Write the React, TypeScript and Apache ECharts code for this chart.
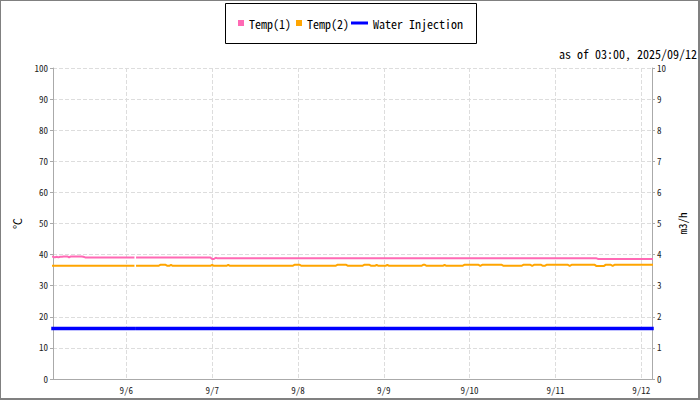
import React, { useEffect, useRef } from "react";
import * as echarts from "echarts";

const FONT = "'Noto Sans Mono CJK JP', 'DejaVu Sans Mono', monospace";

// 30-minute samples from 2025/09/05 03:30 to 2025/09/12 03:00 (local time)
const START = new Date(2025, 8, 5, 3, 30).getTime();
const STEP = 30 * 60 * 1000;
const DAY = 24 * 60 * 60 * 1000;

const titleText = "as of 03:00, 2025/09/12";
const seriesNames = ["Temp(1)", "Temp(2)", "Water Injection"];
const leftAxisName = "℃";
const rightAxisName = "m3/h";

const temp1: (number | null)[] = [
  // 9/5 03:30 - 23:30
  39.3, 39.1, 39.3, 39.1, 39.3, 39.3, 39.4, 39.4, 39.4, 39.1, 39.4, 39.4,
  39.4, 39.4, 39.4, 39.4, 39.4, 39.3, 39.1, 39.1, 39.1, 39.1, 39.1, 39.1,
  39.1, 39.1, 39.1, 39.1, 39.1, 39.1, 39.1, 39.1, 39.1, 39.1, 39.1, 39.1,
  39.1, 39.1, 39.1, 39.1, 39.1,
  // 9/6
  39.1, 39.1, 39.1, 39.1, 39.1, null, 39.1, 39.1, 39.1, 39.1, 39.1, 39.1,
  39.1, 39.1, 39.1, 39.1, 39.1, 39.1, 39.1, 39.1, 39.1, 39.1, 39.1, 39.1,
  39.1, 39.1, 39.1, 39.1, 39.1, 39.1, 39.1, 39.1, 39.1, 39.1, 39.1, 39.1,
  39.1, 39.1, 39.1, 39.1, 39.1, 39.1, 39.1, 39.1, 39.1, 39.1, 39.1, 39.1,
  // 9/7
  38.6, 38.6, 39.0, 38.8, 38.8, 38.8, 38.8, 38.8, 38.8, 38.8, 38.8, 38.8,
  38.8, 38.8, 38.8, 38.8, 38.8, 38.8, 38.8, 38.8, 38.8, 38.8, 38.8, 38.8,
  38.8, 38.8, 38.8, 38.8, 38.8, 38.8, 38.8, 38.8, 38.8, 38.8, 38.8, 38.8,
  38.8, 38.8, 38.8, 38.8, 38.8, 38.8, 38.8, 38.8, 38.8, 38.8, 38.8, 38.8,
  // 9/8
  38.8, 38.8, 38.8, 38.8, 38.8, 38.8, 38.8, 38.8, 38.8, 38.8, 38.8, 38.8,
  38.8, 38.8, 38.8, 38.8, 38.8, 38.8, 38.8, 38.8, 38.8, 38.8, 38.8, 38.8,
  38.8, 38.8, 38.8, 38.8, 38.8, 38.8, 38.8, 38.8, 38.8, 38.8, 38.8, 38.8,
  38.8, 38.8, 38.8, 38.8, 38.8, 38.8, 38.8, 38.8, 38.8, 38.8, 38.8, 38.8,
  // 9/9
  38.8, 38.8, 38.8, 38.8, 38.8, 38.8, 38.8, 38.8, 38.8, 38.8, 38.8, 38.8,
  38.8, 38.8, 38.8, 38.8, 38.8, 38.8, 38.8, 38.8, 38.8, 38.8, 38.8, 38.8,
  38.8, 38.8, 38.8, 38.8, 38.8, 38.8, 38.8, 38.8, 38.8, 38.8, 38.8, 38.8,
  38.8, 38.8, 38.8, 38.8, 38.8, 38.8, 38.8, 38.8, 38.8, 38.8, 38.8, 38.8,
  // 9/10
  38.8, 38.8, 38.8, 38.8, 38.8, 38.8, 38.8, 38.8, 38.8, 38.8, 38.8, 38.8,
  38.8, 38.8, 38.8, 38.8, 38.8, 38.8, 38.8, 38.8, 38.8, 38.8, 38.8, 38.8,
  38.8, 38.8, 38.8, 38.8, 38.8, 38.8, 38.8, 38.8, 38.8, 38.8, 38.8, 38.8,
  38.8, 38.8, 38.8, 38.8, 38.8, 38.8, 38.8, 38.8, 38.8, 38.8, 38.8, 38.8,
  // 9/11
  38.8, 38.8, 38.8, 38.8, 38.8, 38.8, 38.8, 38.8, 38.8, 38.8, 38.8, 38.8,
  38.8, 38.8, 38.8, 38.8, 38.8, 38.8, 38.8, 38.8, 38.8, 38.8, 38.8, 38.8,
  38.6, 38.6, 38.6, 38.6, 38.6, 38.6, 38.6, 38.6, 38.6, 38.6, 38.6, 38.6,
  38.6, 38.6, 38.6, 38.6, 38.6, 38.6, 38.6, 38.6, 38.6, 38.6, 38.6, 38.6,
  // 9/12 00:00 - 03:00
  38.6, 38.6, 38.6, 38.6, 38.6, 38.6, 38.6,
];

const temp2: (number | null)[] = [
  // 9/5 03:30 - 23:30
  36.4, 36.4, 36.4, 36.4, 36.4, 36.4, 36.4, 36.4, 36.4, 36.4, 36.4, 36.4,
  36.4, 36.4, 36.4, 36.4, 36.4, 36.4, 36.4, 36.4, 36.4, 36.4, 36.4, 36.4,
  36.4, 36.4, 36.4, 36.4, 36.4, 36.4, 36.4, 36.4, 36.4, 36.4, 36.4, 36.4,
  36.4, 36.4, 36.4, 36.4, 36.4,
  // 9/6
  36.4, 36.4, 36.4, 36.4, 36.4, null, 36.4, 36.4, 36.4, 36.4, 36.4, 36.4,
  36.4, 36.4, 36.4, 36.4, 36.4, 36.4, 36.4, 36.7, 36.7, 36.7, 36.7, 36.4,
  36.4, 36.7, 36.4, 36.4, 36.4, 36.4, 36.4, 36.4, 36.4, 36.4, 36.4, 36.4,
  36.4, 36.4, 36.4, 36.4, 36.4, 36.4, 36.4, 36.4, 36.4, 36.4, 36.4, 36.4,
  // 9/7
  36.7, 36.4, 36.4, 36.4, 36.4, 36.4, 36.4, 36.4, 36.4, 36.7, 36.4, 36.4,
  36.4, 36.4, 36.4, 36.4, 36.4, 36.4, 36.4, 36.4, 36.4, 36.4, 36.4, 36.4,
  36.4, 36.4, 36.4, 36.4, 36.4, 36.4, 36.4, 36.4, 36.4, 36.4, 36.4, 36.4,
  36.4, 36.4, 36.4, 36.4, 36.4, 36.4, 36.4, 36.4, 36.4, 36.4, 36.7, 36.7,
  // 9/8
  36.7, 36.7, 36.4, 36.4, 36.4, 36.4, 36.4, 36.4, 36.4, 36.4, 36.4, 36.4,
  36.4, 36.4, 36.4, 36.4, 36.4, 36.4, 36.4, 36.4, 36.4, 36.4, 36.7, 36.7,
  36.7, 36.7, 36.7, 36.7, 36.4, 36.4, 36.4, 36.4, 36.4, 36.4, 36.4, 36.4,
  36.4, 36.7, 36.7, 36.7, 36.7, 36.4, 36.4, 36.4, 36.7, 36.4, 36.4, 36.4,
  // 9/9
  36.4, 36.4, 36.7, 36.4, 36.4, 36.4, 36.4, 36.4, 36.4, 36.4, 36.4, 36.4,
  36.4, 36.4, 36.4, 36.4, 36.4, 36.4, 36.4, 36.4, 36.4, 36.4, 36.7, 36.7,
  36.4, 36.4, 36.4, 36.4, 36.4, 36.4, 36.4, 36.4, 36.4, 36.4, 36.7, 36.4,
  36.4, 36.4, 36.4, 36.4, 36.4, 36.4, 36.4, 36.4, 36.4, 36.7, 36.7, 36.7,
  // 9/10
  36.7, 36.7, 36.7, 36.7, 36.7, 36.7, 36.4, 36.7, 36.7, 36.7, 36.7, 36.7,
  36.7, 36.7, 36.7, 36.7, 36.7, 36.7, 36.7, 36.4, 36.4, 36.4, 36.4, 36.4,
  36.4, 36.4, 36.4, 36.4, 36.4, 36.4, 36.7, 36.7, 36.7, 36.7, 36.7, 36.4,
  36.7, 36.7, 36.7, 36.7, 36.7, 36.4, 36.4, 36.7, 36.7, 36.7, 36.7, 36.7,
  // 9/11
  36.7, 36.7, 36.7, 36.7, 36.7, 36.7, 36.7, 36.7, 36.4, 36.7, 36.7, 36.7,
  36.7, 36.7, 36.7, 36.7, 36.7, 36.7, 36.7, 36.7, 36.7, 36.7, 36.7, 36.3,
  36.3, 36.3, 36.3, 36.3, 36.7, 36.7, 36.7, 36.7, 36.4, 36.7, 36.7, 36.7,
  36.7, 36.7, 36.7, 36.7, 36.7, 36.7, 36.7, 36.7, 36.7, 36.7, 36.7, 36.7,
  // 9/12 00:00 - 03:00
  36.7, 36.7, 36.7, 36.7, 36.7, 36.7, 36.7,
];

const water: (number | null)[] = [
  // 9/5 03:30 - 23:30
  1.62, 1.62, 1.62, 1.62, 1.62, 1.62, 1.62, 1.62, 1.62, 1.62, 1.62, 1.62,
  1.62, 1.62, 1.62, 1.62, 1.62, 1.62, 1.62, 1.62, 1.62, 1.62, 1.62, 1.62,
  1.62, 1.62, 1.62, 1.62, 1.62, 1.62, 1.62, 1.62, 1.62, 1.62, 1.62, 1.62,
  1.62, 1.62, 1.62, 1.62, 1.62,
  // 9/6
  1.62, 1.62, 1.62, 1.62, 1.62, null, 1.62, 1.62, 1.62, 1.62, 1.62, 1.62,
  1.62, 1.62, 1.62, 1.62, 1.62, 1.62, 1.62, 1.62, 1.62, 1.62, 1.62, 1.62,
  1.62, 1.62, 1.62, 1.62, 1.62, 1.62, 1.62, 1.62, 1.62, 1.62, 1.62, 1.62,
  1.62, 1.62, 1.62, 1.62, 1.62, 1.62, 1.62, 1.62, 1.62, 1.62, 1.62, 1.62,
  // 9/7
  1.62, 1.62, 1.62, 1.62, 1.62, 1.62, 1.62, 1.62, 1.62, 1.62, 1.62, 1.62,
  1.62, 1.62, 1.62, 1.62, 1.62, 1.62, 1.62, 1.62, 1.62, 1.62, 1.62, 1.62,
  1.62, 1.62, 1.62, 1.62, 1.62, 1.62, 1.62, 1.62, 1.62, 1.62, 1.62, 1.62,
  1.62, 1.62, 1.62, 1.62, 1.62, 1.62, 1.62, 1.62, 1.62, 1.62, 1.62, 1.62,
  // 9/8
  1.62, 1.62, 1.62, 1.62, 1.62, 1.62, 1.62, 1.62, 1.62, 1.62, 1.62, 1.62,
  1.62, 1.62, 1.62, 1.62, 1.62, 1.62, 1.62, 1.62, 1.62, 1.62, 1.62, 1.62,
  1.62, 1.62, 1.62, 1.62, 1.62, 1.62, 1.62, 1.62, 1.62, 1.62, 1.62, 1.62,
  1.62, 1.62, 1.62, 1.62, 1.62, 1.62, 1.62, 1.62, 1.62, 1.62, 1.62, 1.62,
  // 9/9
  1.62, 1.62, 1.62, 1.62, 1.62, 1.62, 1.62, 1.62, 1.62, 1.62, 1.62, 1.62,
  1.62, 1.62, 1.62, 1.62, 1.62, 1.62, 1.62, 1.62, 1.62, 1.62, 1.62, 1.62,
  1.62, 1.62, 1.62, 1.62, 1.62, 1.62, 1.62, 1.62, 1.62, 1.62, 1.62, 1.62,
  1.62, 1.62, 1.62, 1.62, 1.62, 1.62, 1.62, 1.62, 1.62, 1.62, 1.62, 1.62,
  // 9/10
  1.62, 1.62, 1.62, 1.62, 1.62, 1.62, 1.62, 1.62, 1.62, 1.62, 1.62, 1.62,
  1.62, 1.62, 1.62, 1.62, 1.62, 1.62, 1.62, 1.62, 1.62, 1.62, 1.62, 1.62,
  1.62, 1.62, 1.62, 1.62, 1.62, 1.62, 1.62, 1.62, 1.62, 1.62, 1.62, 1.62,
  1.62, 1.62, 1.62, 1.62, 1.62, 1.62, 1.62, 1.62, 1.62, 1.62, 1.62, 1.62,
  // 9/11
  1.62, 1.62, 1.62, 1.62, 1.62, 1.62, 1.62, 1.62, 1.62, 1.62, 1.62, 1.62,
  1.62, 1.62, 1.62, 1.62, 1.62, 1.62, 1.62, 1.62, 1.62, 1.62, 1.62, 1.62,
  1.62, 1.62, 1.62, 1.62, 1.62, 1.62, 1.62, 1.62, 1.62, 1.62, 1.62, 1.62,
  1.62, 1.62, 1.62, 1.62, 1.62, 1.62, 1.62, 1.62, 1.62, 1.62, 1.62, 1.62,
  // 9/12 00:00 - 03:00
  1.62, 1.62, 1.62, 1.62, 1.62, 1.62, 1.62,
];

const times: number[] = temp1.map((_, i) => START + i * STEP);
const END = times[times.length - 1];

const labelStyle = { fontFamily: FONT, fontSize: 9, color: "#222" };

export default function App() {
  const ref = useRef<HTMLDivElement>(null);

  useEffect(() => {
    if (!ref.current) return;
    const chart = echarts.init(ref.current, null, { renderer: "svg" });
    const pair = (arr: (number | null)[]) => times.map((t, i) => [t, arr[i]]);
    chart.setOption({
      animation: false,
      backgroundColor: "#fff",
      textStyle: { fontFamily: FONT },
      title: {
        text: titleText,
        right: 3,
        top: 47,
        padding: 0,
        textStyle: { fontFamily: FONT, fontSize: 12, fontWeight: "normal", color: "#000" },
      },
      graphic: [
        {
          type: "rect",
          silent: true,
          z: -1,
          shape: { x: 225.5, y: 3.5, width: 251, height: 40 },
          style: { fill: "none", stroke: "#000", lineWidth: 1 },
        },
      ],
      legend: [
        {
          data: [seriesNames[0], seriesNames[1]],
          left: 238,
          top: 17,
          padding: 0,
          icon: "rect",
          itemWidth: 6,
          itemHeight: 6,
          itemGap: 5,
          textStyle: { fontFamily: FONT, fontSize: 12, color: "#000" },
        },
        {
          data: [seriesNames[2]],
          left: 351,
          top: 17,
          padding: 0,
          icon: "rect",
          itemWidth: 17,
          itemHeight: 3,
          textStyle: { fontFamily: FONT, fontSize: 12, color: "#000" },
        },
      ],
      grid: { left: 53, right: 48, top: 68, bottom: 21 },
      xAxis: {
        type: "time",
        min: START,
        max: END,
        minInterval: DAY,
        maxInterval: DAY,
        axisLine: { lineStyle: { color: "#aaa" } },
        axisTick: { show: false },
        axisLabel: {
          ...labelStyle,
          margin: 7,
          formatter: (v: number) => {
            const d = new Date(v);
            if (d.getHours() !== 0 || d.getMinutes() !== 0) return "";
            return `${d.getMonth() + 1}/${d.getDate()}`;
          },
        },
        splitLine: { show: true, lineStyle: { type: "dashed", color: "#ddd" } },
      },
      yAxis: [
        {
          type: "value",
          min: 0,
          max: 100,
          interval: 10,
          name: leftAxisName,
          nameLocation: "middle",
          nameGap: 31,
          nameTextStyle: { fontFamily: FONT, fontSize: 11, color: "#000" },
          axisLine: { show: true, lineStyle: { color: "#aaa" } },
          axisTick: { show: true, length: 3, lineStyle: { color: "#aaa" } },
          axisLabel: { ...labelStyle, margin: 5 },
          splitLine: { show: true, lineStyle: { type: "dashed", color: "#ddd" } },
        },
        {
          type: "value",
          min: 0,
          max: 10,
          interval: 1,
          position: "right",
          name: rightAxisName,
          nameLocation: "middle",
          nameGap: 21,
          nameTextStyle: { fontFamily: FONT, fontSize: 11, color: "#000" },
          axisLine: { show: true, lineStyle: { color: "#aaa" } },
          axisTick: { show: true, length: 3, lineStyle: { color: "#aaa" } },
          axisLabel: { ...labelStyle, margin: 5 },
          splitLine: { show: false },
        },
      ],
      series: [
        {
          name: seriesNames[0],
          type: "line",
          yAxisIndex: 0,
          data: pair(temp1),
          symbol: "none",
          lineStyle: { color: "#ff69b4", width: 2, cap: "square" },
          itemStyle: { color: "#ff69b4" },
        },
        {
          name: seriesNames[1],
          type: "line",
          yAxisIndex: 0,
          data: pair(temp2),
          symbol: "none",
          lineStyle: { color: "#ffa500", width: 2, cap: "square" },
          itemStyle: { color: "#ffa500" },
        },
        {
          name: seriesNames[2],
          type: "line",
          yAxisIndex: 1,
          data: pair(water),
          symbol: "none",
          lineStyle: { color: "#0000ff", width: 3.5, cap: "square" },
          itemStyle: { color: "#0000ff" },
        },
      ],
    });
    return () => chart.dispose();
  }, []);

  return (
    <div style={{ position: "fixed", left: 0, top: 0, width: 700, height: 400, background: "#fff" }}>
      <div ref={ref} style={{ position: "absolute", left: 0, top: 0, width: 700, height: 400 }} />
      <div
        style={{
          position: "absolute",
          left: 0,
          top: 0,
          width: 700,
          height: 400,
          boxSizing: "border-box",
          borderLeft: "1px solid #808080",
          borderTop: "1px solid #808080",
          borderRight: "2px solid #808080",
          borderBottom: "2px solid #808080",
          pointerEvents: "none",
        }}
      />
    </div>
  );
}
